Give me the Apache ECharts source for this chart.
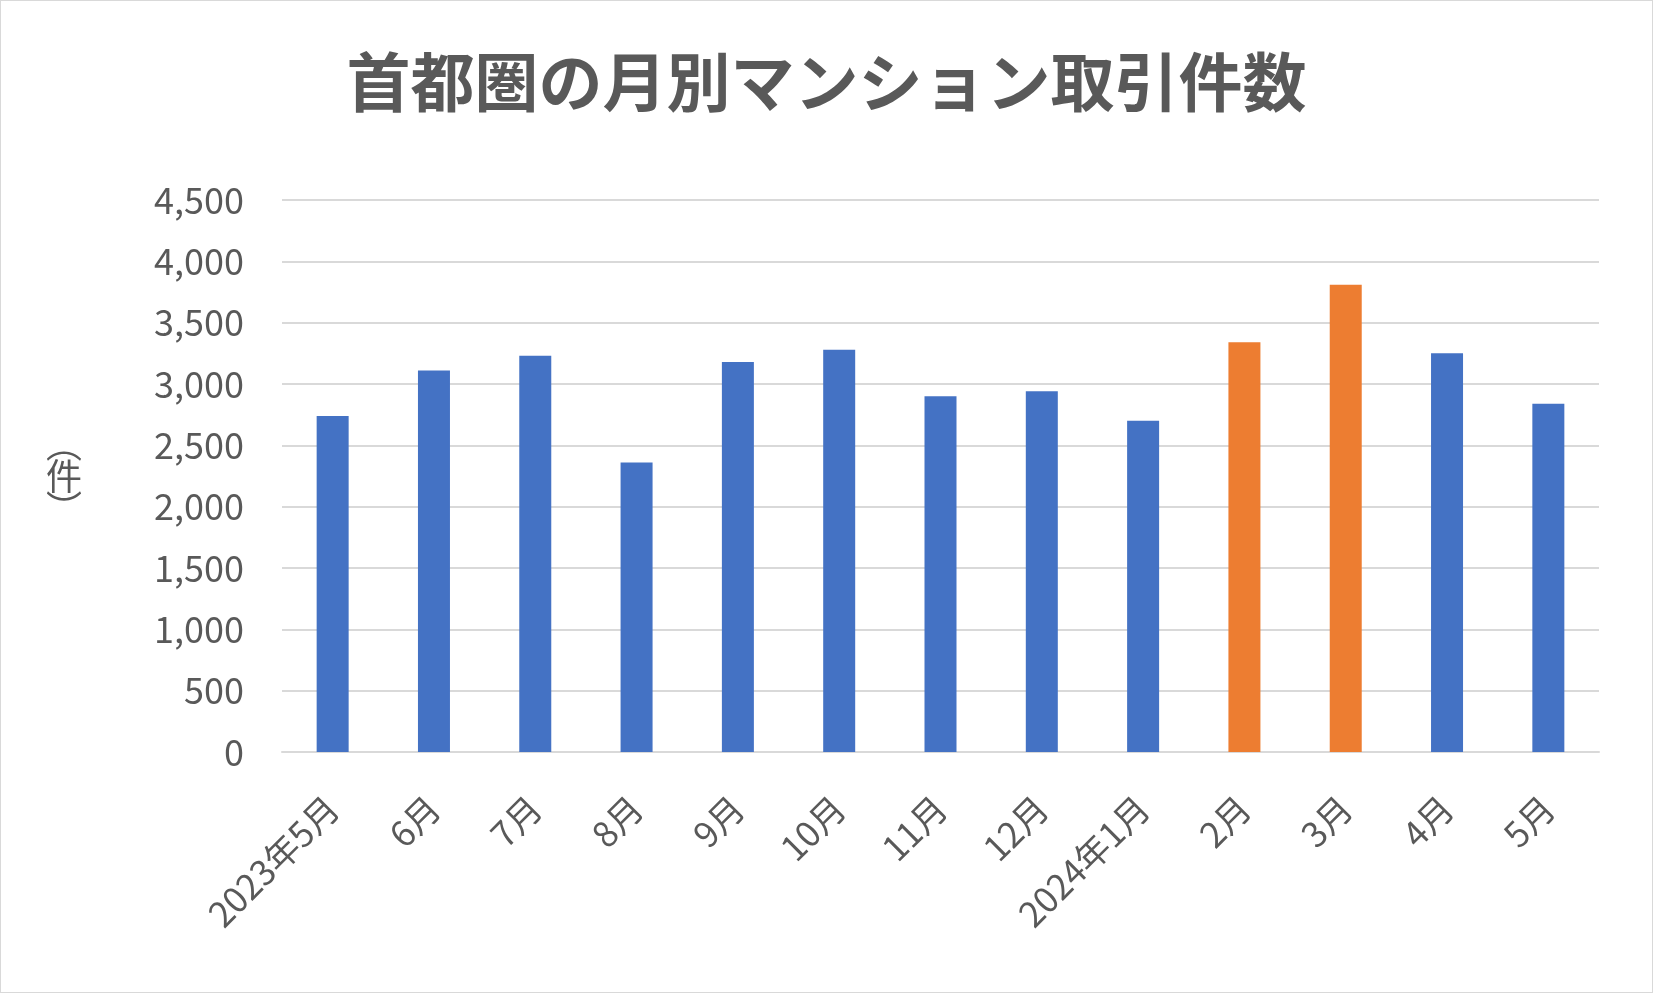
<!DOCTYPE html>
<html>
<head>
<meta charset="utf-8">
<script src="https://cdn.jsdelivr.net/npm/echarts@6/dist/echarts.min.js"></script>
<style>
  html, body { margin: 0; padding: 0; background: #fff; }
  #chart { width: 1651px; height: 991px; border: 1px solid #d9d9d9; }
</style>
</head>
<body>
<div id="chart"></div>
<script>
var months = ["2023年5月", "6月", "7月", "8月", "9月", "10月", "11月", "12月", "2024年1月", "2月", "3月", "4月", "5月"];
var counts = [2740, 3110, 3230, 2360, 3180, 3280, 2900, 2940, 2700, 3340, 3810, 3250, 2840];
var highlight = [9, 10]; // orange months

var blue = "#4472c4";
var orange = "#ed7d31";
var textColor = "#595959";
var font = "'Noto Sans CJK JP', 'Noto Sans', sans-serif";

var myChart = echarts.init(document.getElementById("chart"));

var barData = counts.map(function (v, i) {
  return {
    value: v,
    itemStyle: { color: highlight.indexOf(i) >= 0 ? orange : blue }
  };
});

var option = {
  animation: false,
  textStyle: { fontFamily: font },
  title: {
    text: "首都圏の月別マンション取引件数",
    left: "center",
    top: 44,
    textStyle: { color: textColor, fontSize: 64, fontWeight: "bold", fontFamily: font }
  },
  grid: { left: 281, right: 53, top: 199, bottom: 240 },
  xAxis: {
    type: "category",
    data: months,
    axisTick: { show: false },
    axisLine: { lineStyle: { color: "#d9d9d9", width: 2 } },
    axisLabel: { color: textColor, fontSize: 35, rotate: 45, interval: 0, margin: 50 }
  },
  yAxis: {
    type: "value",
    min: 0,
    max: 4500,
    interval: 500,
    name: "︵\n件\n︶",
    nameLocation: "middle",
    nameGap: 200,
    nameRotate: 0,
    nameTextStyle: { color: textColor, fontSize: 36, lineHeight: 32 },
    axisLine: { show: false },
    axisTick: { show: false },
    axisLabel: {
      color: textColor,
      fontSize: 36,
      margin: 38,
      formatter: function (v) { return v.toLocaleString("en-US"); }
    },
    splitLine: { lineStyle: { color: "#d9d9d9", width: 2 } }
  },
  series: [{
    type: "bar",
    barWidth: 32,
    data: barData
  }]
};
myChart.setOption(option);
</script>
</body>
</html>
